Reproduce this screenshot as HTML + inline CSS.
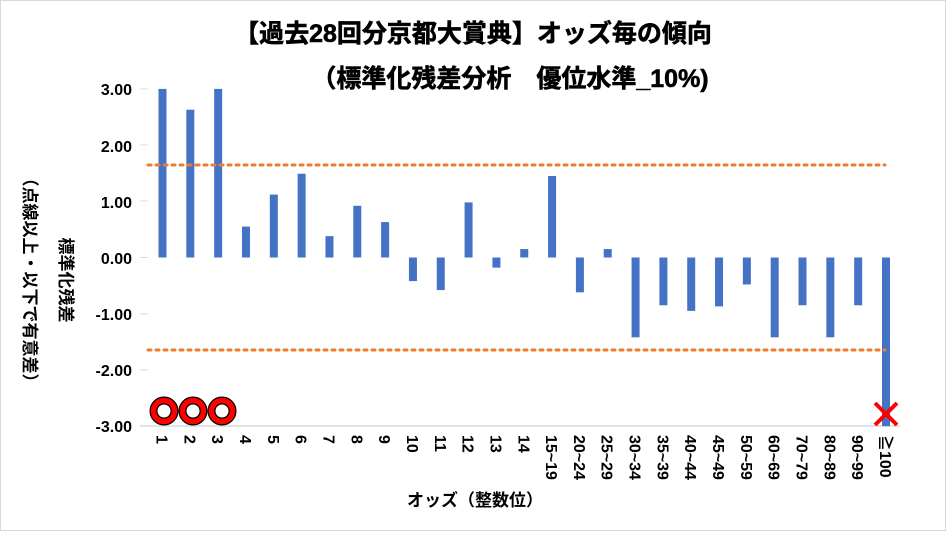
<!DOCTYPE html>
<html><head><meta charset="utf-8"><style>
body{margin:0;background:#fff}
svg text{font-family:"Liberation Sans","Noto Sans CJK JP",sans-serif;font-weight:bold;fill:#000}
</style></head><body>
<svg width="946" height="531" viewBox="0 0 946 531" xmlns="http://www.w3.org/2000/svg">
<rect x="0.5" y="0.5" width="945" height="530" fill="#fff" stroke="#d9d9d9"/>
<text x="473" y="42" font-size="25" text-anchor="middle" stroke="#000" stroke-width="0.6">【過去28回分京都大賞典】オッズ毎の傾向</text>
<text x="510" y="87" font-size="25" text-anchor="middle" stroke="#000" stroke-width="0.6">（標準化残差分析　優位水準_10%)</text>
<g font-size="16" text-anchor="end">
<text x="132" y="95">3.00</text><text x="132" y="152">2.00</text><text x="132" y="208">1.00</text>
<text x="132" y="264">0.00</text><text x="132" y="320">-1.00</text><text x="132" y="376">-2.00</text><text x="132" y="432">-3.00</text>
</g>
<g stroke="#d9d9d9"><line x1="140" y1="89" x2="148" y2="89"/><line x1="140" y1="145" x2="148" y2="145"/><line x1="140" y1="201" x2="148" y2="201"/><line x1="140" y1="257.5" x2="148" y2="257.5"/><line x1="140" y1="314" x2="148" y2="314"/><line x1="140" y1="370" x2="148" y2="370"/><line x1="140" y1="426" x2="900" y2="426" stroke-width="1.5"/></g>
<text transform="translate(60,280) rotate(90)" font-size="17" text-anchor="middle">標準化残差</text>
<text transform="translate(24,280) rotate(90)" font-size="17" text-anchor="middle">（点線以上・以下で有意差）</text>
<g id="bars" fill="#4472c4"></g>
<line x1="148" y1="165" x2="885" y2="165" stroke="#ed7d31" stroke-width="3" stroke-dasharray="3,5" stroke-linecap="round"/>
<line x1="148" y1="350" x2="885" y2="350" stroke="#ed7d31" stroke-width="3" stroke-dasharray="3,5" stroke-linecap="round"/>
<g fill="none" stroke="#000" stroke-width="8"><circle cx="164" cy="411" r="10.5"/><circle cx="193" cy="411" r="10.5"/><circle cx="222" cy="411" r="10.5"/></g>
<g fill="none" stroke="#ff0000" stroke-width="5.5"><circle cx="164" cy="411" r="10.5"/><circle cx="193" cy="411" r="10.5"/><circle cx="222" cy="411" r="10.5"/></g>
<g stroke="#ff0000" stroke-width="4"><line x1="875" y1="403" x2="897" y2="425"/><line x1="897" y1="403" x2="875" y2="425"/></g>
<g id="xl" font-size="16"></g>
<text x="475" y="506" font-size="17" text-anchor="middle">オッズ（整数位）</text>
</svg>
<script>
var v=[3,2.63,3,0.55,1.12,1.49,0.38,0.92,0.63,-0.42,-0.58,0.98,-0.18,0.15,1.45,-0.62,0.15,-1.42,-0.85,-0.95,-0.87,-0.48,-1.42,-0.85,-1.42,-0.85,-3];
var l=["1","2","3","4","5","6","7","8","9","10","11","12","13","14","15~19","20~24","25~29","30~34","35~39","40~44","45~49","50~59","60~69","70~79","80~89","90~99","≧100"];
var ns="http://www.w3.org/2000/svg",b=document.getElementById("bars"),x=document.getElementById("xl");
for(var i=0;i<27;i++){var c=162.5+i*(886-162.5)/26,y0=257.5,h=v[i]*56.2;
var r=document.createElementNS(ns,"rect");r.setAttribute("x",c-4);r.setAttribute("width",8);
r.setAttribute("y",h>0?y0-h:y0);r.setAttribute("height",Math.abs(h));b.appendChild(r);
var t=document.createElementNS(ns,"text");t.setAttribute("transform","translate("+(c-6)+",435) rotate(90)");t.textContent=l[i];x.appendChild(t);}
</script>
</body></html>
